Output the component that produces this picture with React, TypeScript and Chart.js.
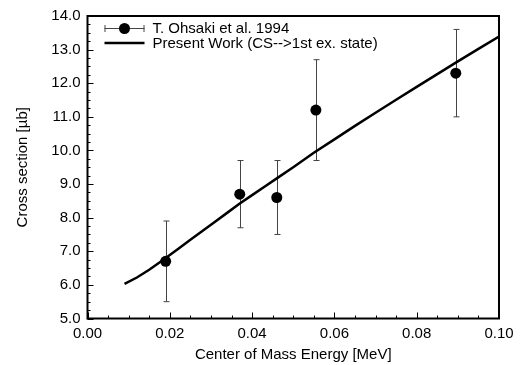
import React, { useEffect, useRef } from "react";
import { Chart, registerables } from "chart.js";

Chart.register(...registerables);

// Experimental data (T. Ohsaki et al. 1994)
const expX = [0.019, 0.037, 0.046, 0.0555, 0.0895];
const expY = [6.7, 8.7, 8.6, 11.2, 12.3];
const expLow = [5.5, 7.7, 7.5, 9.7, 11.0];
const expHigh = [7.9, 9.7, 9.7, 12.7, 13.6];

// Present work curve
const curveX = [0.009, 0.012, 0.015, 0.018, 0.02, 0.022, 0.025, 0.028, 0.031, 0.034, 0.037, 0.04, 0.043, 0.046, 0.05, 0.055, 0.06, 0.065, 0.07, 0.075, 0.08, 0.085, 0.09, 0.095, 0.1];
const curveY = [6.03, 6.22, 6.45, 6.71, 6.89, 7.07, 7.34, 7.61, 7.88, 8.15, 8.42, 8.67, 8.92, 9.17, 9.5, 9.93, 10.33, 10.73, 11.12, 11.51, 11.89, 12.27, 12.65, 13.02, 13.39];

const seriesLabels = ["T. Ohsaki et al. 1994", "Present Work (CS-->1st ex. state)"];
const xTitle = "Center of Mass Energy [MeV]";
const yTitle = "Cross section [\u00b5b]";

const FONT = "'Liberation Sans', Arial, Helvetica, sans-serif";
const FS = 15;

const frameAndTicks = {
  id: "frameAndTicks",
  beforeDatasetsDraw(chart: any) {
    const ctx = chart.ctx;
    const xs = chart.scales.x;
    const ys = chart.scales.y;
    ctx.save();
    ctx.strokeStyle = "#444";
    ctx.lineWidth = 1;
    for (let i = 0; i < expX.length; i++) {
      const px = Math.round(xs.getPixelForValue(expX[i])) + 0.5;
      const top = ys.getPixelForValue(expHigh[i]);
      const bot = ys.getPixelForValue(expLow[i]);
      ctx.beginPath();
      ctx.moveTo(px, top);
      ctx.lineTo(px, bot);
      ctx.moveTo(px - 3, top);
      ctx.lineTo(px + 3, top);
      ctx.moveTo(px - 3, bot);
      ctx.lineTo(px + 3, bot);
      ctx.stroke();
    }
    ctx.restore();
  },
  afterDraw(chart: any) {
    const ctx = chart.ctx;
    const a = chart.chartArea;
    const xs = chart.scales.x;
    const ys = chart.scales.y;
    ctx.save();
    ctx.strokeStyle = "#000";
    ctx.lineWidth = 1;
    ctx.beginPath();
    for (let k = 0; k <= 20; k++) {
      const v = k * 0.005;
      const px = Math.round(xs.getPixelForValue(v)) + 0.5;
      const len = k % 4 === 0 ? 6 : 3;
      ctx.moveTo(px, a.bottom);
      ctx.lineTo(px, a.bottom - len);
    }
    for (let k = 0; k <= 36; k++) {
      const v = 5 + k * 0.25;
      const py = Math.round(ys.getPixelForValue(v)) + 0.5;
      const len = k % 4 === 0 ? 6 : 3;
      ctx.moveTo(a.left, py);
      ctx.lineTo(a.left + len, py);
    }
    ctx.stroke();
    ctx.lineWidth = 2;
    ctx.strokeRect(a.left, a.top, a.right - a.left, a.bottom - a.top);

    // legend
    const lx0 = a.left + 17;
    const lx1 = a.left + 57;
    const y1 = a.top + 12;
    const y2 = a.top + 27;
    ctx.strokeStyle = "#444";
    ctx.lineWidth = 1;
    ctx.beginPath();
    ctx.moveTo(lx0, y1 + 0.5);
    ctx.lineTo(lx1, y1 + 0.5);
    ctx.moveTo(lx0 + 0.5, y1 - 3);
    ctx.lineTo(lx0 + 0.5, y1 + 4);
    ctx.moveTo(lx1 - 0.5, y1 - 3);
    ctx.lineTo(lx1 - 0.5, y1 + 4);
    ctx.stroke();
    ctx.fillStyle = "#000";
    ctx.beginPath();
    ctx.arc((lx0 + lx1) / 2, y1 + 0.5, 5.5, 0, Math.PI * 2);
    ctx.fill();
    ctx.strokeStyle = "#000";
    ctx.lineWidth = 2.5;
    ctx.beginPath();
    ctx.moveTo(lx0, y2);
    ctx.lineTo(lx1, y2);
    ctx.stroke();
    ctx.font = FS + "px " + FONT;
    ctx.textBaseline = "middle";
    ctx.textAlign = "left";
    ctx.fillText(seriesLabels[0], lx1 + 8, y1 + 1);
    ctx.fillText(seriesLabels[1], lx1 + 8, y2 + 1);
    ctx.restore();
  },
};

export default function App() {
  const ref = useRef<HTMLCanvasElement>(null);
  useEffect(() => {
    document.body.style.margin = "0";
    const canvas = ref.current!;
    Chart.defaults.font.family = FONT;
    Chart.defaults.color = "#000";
    const chart = new Chart(canvas, {
      type: "scatter",
      data: {
        datasets: [
          {
            label: seriesLabels[0],
            data: expX.map((x, i) => ({ x, y: expY[i] })),
            pointRadius: 5.5,
            pointBackgroundColor: "#000",
            pointBorderColor: "#000",
            pointBorderWidth: 0,
            showLine: false,
          },
          {
            label: seriesLabels[1],
            data: curveX.map((x, i) => ({ x, y: curveY[i] })),
            showLine: true,
            pointRadius: 0,
            borderColor: "#000",
            borderWidth: 2.5,
            tension: 0,
            fill: false,
          },
        ],
      },
      options: {
        animation: false,
        responsive: false,
        layout: { padding: { left: 0, right: 32, top: 13.5, bottom: 0 } },
        plugins: { legend: { display: false }, tooltip: { enabled: false } },
        scales: {
          x: {
            type: "linear",
            min: 0,
            max: 0.1,
            grid: { display: false, drawTicks: false },
            border: { display: false },
            ticks: {
              stepSize: 0.02,
              padding: 6,
              font: { size: FS },
              callback: (v: any) => Number(v).toFixed(2),
            },
            title: { display: true, text: xTitle, font: { size: FS }, padding: { top: 0, bottom: 1 } },
            afterFit: (s: any) => {
              s.height = 46.5;
            },
          },
          y: {
            type: "linear",
            min: 5,
            max: 14,
            grid: { display: false, drawTicks: false },
            border: { display: false },
            ticks: {
              stepSize: 1,
              padding: 7,
              font: { size: FS },
              callback: (v: any) => Number(v).toFixed(1),
            },
            title: { display: true, text: yTitle, font: { size: FS }, padding: { top: 14, bottom: 0 } },
            afterFit: (s: any) => {
              s.width = 87.5;
            },
          },
        },
      },
      plugins: [frameAndTicks],
    });
    return () => chart.destroy();
  }, []);
  return (
    <div style={{ width: 531, height: 365 }}>
      <canvas ref={ref} width={531} height={365} style={{ display: "block" }} />
    </div>
  );
}
